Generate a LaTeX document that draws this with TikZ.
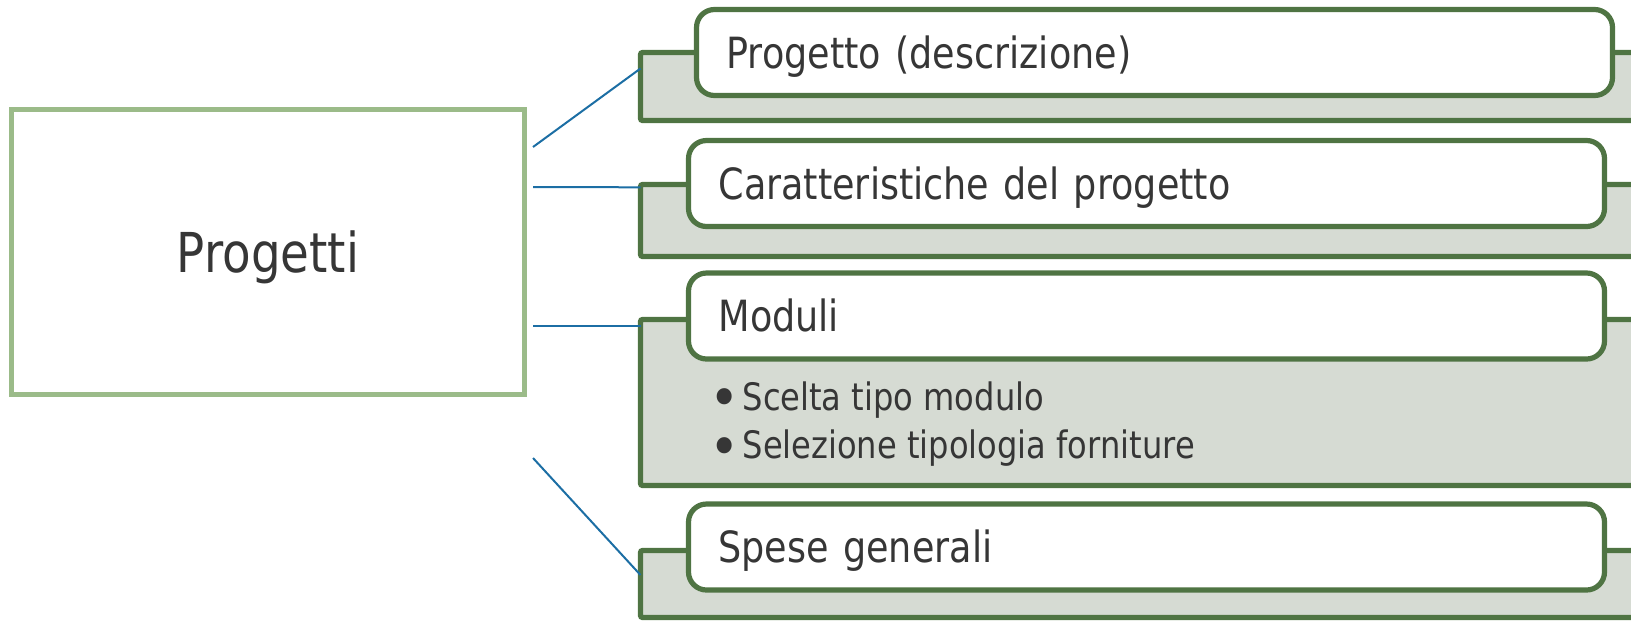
\documentclass[tikz,border=0pt]{standalone}
\usepackage{fontspec}
\usepackage{graphicx}
\setmainfont{DejaVu Sans}[FakeStretch=0.85]
\usetikzlibrary{calc}

\definecolor{leafgreen}{HTML}{4F7443}
\definecolor{sagegray}{HTML}{D6DBD3}
\definecolor{palegreen}{HTML}{9BBB89}
\definecolor{linkblue}{HTML}{1C6EA4}
\definecolor{inkgray}{HTML}{363636}

\newcommand{\itembullet}{\makebox[12.6pt][l]{\hspace{-3.75pt}\rlap{\raisebox{-3.85pt}{\scalebox{1.6}[1.48]{•}}}}}

\tikzset{
  backbox/.style={draw=leafgreen,fill=sagegray,line width=2.6pt,rounded corners=1pt,
    minimum width=530pt,anchor=north west,inner sep=0pt,outer sep=0pt},
  headbox/.style={draw=leafgreen,fill=white,line width=2.6pt,rounded corners=9pt,
    minimum height=43pt,text width=428pt,inner xsep=15pt,inner ysep=0pt,outer sep=0pt,align=left,
    text height=15.7pt,text depth=0pt,font=\fontsize{21.5}{26}\selectfont,text=inkgray,anchor=west},
  itemtext/.style={inner sep=0pt,anchor=base west,text=inkgray,font=\fontsize{18.9}{23}\selectfont},
  link/.style={draw=linkblue,line width=1pt},
}

\begin{document}
\begin{tikzpicture}[x=0.5pt,y=-0.5pt]
  \useasboundingbox (0,0) rectangle (1631,623);
  \clip (0,0) rectangle (1631,623);

  \node[draw=palegreen,line width=2.5pt,minimum width=256.5pt,minimum height=142.5pt,inner sep=0pt,outer sep=0pt,
    text height=20pt,text depth=0pt,font=\fontsize{27.5}{33}\selectfont,text=inkgray] (prog) at (268,252) {Progetti};

  \coordinate (p1) at ($(prog.east)+(8.5,-105)$);
  \coordinate (p2) at ($(prog.east)+(8.5,-65)$);
  \coordinate (p3) at ($(prog.east)+(8.5,74)$);
  \coordinate (p4) at ($(prog.east)+(8.5,206)$);

  \node[backbox,minimum height=34pt] (b1) at (640.5,52.5) {};
  \node[backbox,minimum height=36pt] (b2) at (640.5,184.5) {};
  \node[backbox,minimum height=83pt] (b3) at (640.5,319.5) {};
  \node[backbox,minimum height=33.5pt] (b4) at (640.5,550.5) {};

  \draw[link] (p1) -- ($(b1.north west)+(0,16)$);
  \draw[link] (p2) -- ($(b2.north west)+(0,2.8)$);
  \draw[link] (p3) -- ($(b3.north west)+(0,6.5)$);
  \draw[link] (p4) -- ($(b4.north west)+(0,24.5)$);

  \node[headbox] (h1) at (696.5,52.5) {Progetto (descrizione)};
  \node[headbox] (h2) at (688.5,183.5) {Caratteristiche del progetto};
  \node[headbox] (h3) at (688.5,316) {Moduli};
  \node[headbox] (h4) at (688.5,547) {Spese generali};

  \node[itemtext] (m1) at (717,410) {\itembullet Scelta tipo modulo};
  \node[itemtext] (m2) at (717,458.5) {\itembullet Selezione tipologia forniture};
\end{tikzpicture}
\end{document}
